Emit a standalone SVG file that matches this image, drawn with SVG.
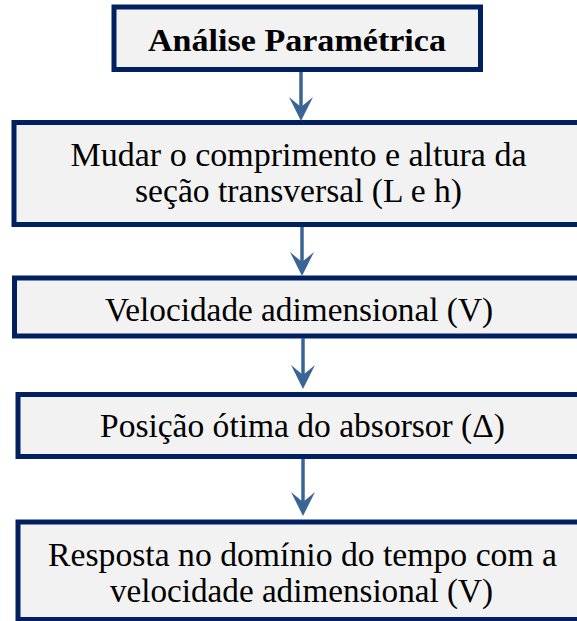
<svg xmlns="http://www.w3.org/2000/svg" width="577" height="621" viewBox="0 0 577 621">
<style>
.box{fill:#f2f2f2;stroke:#002060;stroke-width:5}
.t{font-family:"Liberation Serif","Times New Roman",serif;font-size:33px;fill:#000;text-anchor:middle}
.b{font-weight:bold;font-size:31px}
.conn line{stroke:#3b6496;stroke-width:3.5}
.conn path{fill:#3b6496}
</style>
<rect width="577" height="621" fill="#ffffff"/>
<g id="n1"><rect class="box" x="114" y="7" width="366.5" height="62.5" stroke-width="4.5"/><text class="t b" x="297" y="51" textLength="298" lengthAdjust="spacingAndGlyphs">Análise Paramétrica</text></g>
<g id="n2"><rect class="box" x="14" y="122.5" width="580" height="102"/><text class="t" x="298.5" y="166" textLength="456" lengthAdjust="spacingAndGlyphs">Mudar o comprimento e altura da</text><text class="t" x="298.5" y="202" textLength="327" lengthAdjust="spacingAndGlyphs">seção transversal (L e h)</text></g>
<g id="n3"><rect class="box" x="14.5" y="278" width="580" height="58"/><text class="t" x="299" y="321" textLength="388" lengthAdjust="spacingAndGlyphs">Velocidade adimensional (V)</text></g>
<g id="n4"><rect class="box" x="18" y="394.5" width="580" height="62"/><text class="t" x="302.5" y="437" textLength="405" lengthAdjust="spacingAndGlyphs">Posição ótima do absorsor (Δ)</text></g>
<g id="n5"><rect class="box" x="18" y="522" width="580" height="97.5"/><text class="t" x="302.5" y="566" textLength="509" lengthAdjust="spacingAndGlyphs">Resposta no domínio do tempo com a</text><text class="t" x="301.5" y="602" textLength="383" lengthAdjust="spacingAndGlyphs">velocidade adimensional (V)</text></g>
<g id="connectors" class="conn">
<line x1="301" y1="72" x2="301" y2="110"/><path d="M301,121 L289,97 L301,107 L313,97 Z"/>
<line x1="302" y1="227" x2="302" y2="265"/><path d="M302,276 L290,252 L302,262 L314,252 Z"/>
<line x1="303" y1="338" x2="303" y2="378"/><path d="M303,389 L291,365 L303,375 L315,365 Z"/>
<line x1="303" y1="459" x2="303" y2="505"/><path d="M303,516 L291,492 L303,502 L315,492 Z"/>
</g>
</svg>
